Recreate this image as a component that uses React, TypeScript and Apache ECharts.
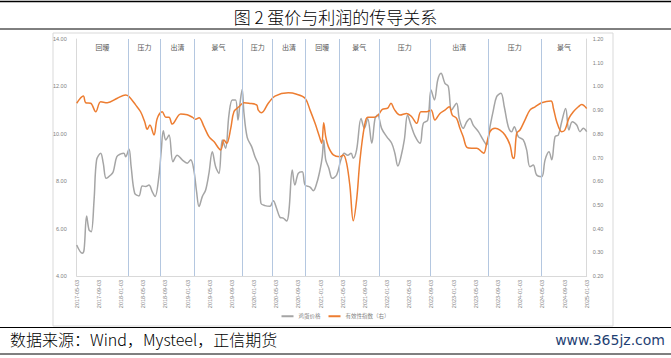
import React, { useEffect, useRef } from "react";
import * as echarts from "echarts";

const eggDates = ["2017-05-03","2017-06-03","2017-06-13","2017-06-27","2017-07-10","2017-07-22","2017-08-07","2017-08-21","2017-09-13","2017-09-27","2017-10-13","2017-11-07","2017-11-21","2017-12-10","2018-01-01","2018-01-19","2018-01-28","2018-02-16","2018-02-28","2018-03-17","2018-04-10","2018-04-28","2018-05-17","2018-06-04","2018-06-22","2018-07-07","2018-07-28","2018-08-11","2018-08-22","2018-09-05","2018-09-23","2018-10-14","2018-11-07","2018-12-04","2019-01-01","2019-01-20","2019-02-07","2019-02-22","2019-03-05","2019-03-23","2019-04-11","2019-04-29","2019-05-17","2019-06-05","2019-06-23","2019-07-11","2019-07-29","2019-08-17","2019-09-05","2019-09-23","2019-10-06","2019-10-17","2019-10-29","2019-11-08","2019-11-26","2019-12-20","2020-01-08","2020-01-30","2020-02-10","2020-03-02","2020-03-29","2020-04-17","2020-05-05","2020-05-23","2020-06-11","2020-06-30","2020-07-12","2020-07-30","2020-08-14","2020-09-02","2020-09-24","2020-10-09","2020-11-06","2020-11-24","2020-12-12","2020-12-30","2021-01-12","2021-01-20","2021-01-31","2021-02-18","2021-03-06","2021-03-30","2021-04-23","2021-05-11","2021-05-30","2021-06-18","2021-06-30","2021-07-18","2021-08-12","2021-08-30","2021-09-18","2021-10-10","2021-10-28","2021-11-12","2021-12-03","2021-12-31","2022-01-28","2022-02-15","2022-03-01","2022-03-18","2022-04-06","2022-04-24","2022-05-12","2022-06-04","2022-07-01","2022-07-19","2022-08-13","2022-08-31","2022-09-19","2022-10-07","2022-10-25","2022-11-16","2022-12-04","2022-12-22","2023-01-19","2023-02-03","2023-02-25","2023-03-14","2023-04-01","2023-04-19","2023-05-17","2023-06-13","2023-07-02","2023-07-20","2023-08-08","2023-08-26","2023-09-19","2023-10-07","2023-10-29","2023-11-17","2023-12-01","2023-12-23","2024-01-20","2024-02-08","2024-02-26","2024-03-14","2024-04-02","2024-04-30","2024-05-18","2024-06-09","2024-06-24","2024-07-12","2024-07-30","2024-08-18","2024-09-09","2024-09-27","2024-10-15","2024-11-09","2024-11-27","2024-12-15","2025-01-03"];
const eggPrice = [5.31,4.96,5.10,6.53,5.94,5.87,7.20,8.90,9.18,8.76,8.12,8.26,8.40,9.03,9.15,9.18,9.03,9.36,8.61,7.49,7.38,7.80,7.78,7.84,7.56,7.35,8.19,9.32,10.13,9.74,9.95,8.82,9.10,8.90,8.76,8.90,8.47,7.56,6.93,7.35,7.63,8.33,9.24,8.61,8.33,9.74,9.39,10.79,11.43,11.43,10.58,11.29,11.88,10.90,9.85,9.46,9.03,8.61,7.07,6.97,6.94,7.18,6.85,6.48,6.44,6.32,6.78,8.47,7.84,8.33,8.40,7.84,7.75,7.60,7.91,8.47,9.03,9.74,8.90,8.54,8.12,8.26,8.90,9.18,9.10,9.18,8.97,9.32,10.65,10.23,10.65,9.60,10.65,10.79,10.23,9.88,9.60,9.18,8.64,9.03,9.74,10.79,10.37,9.90,9.60,10.44,10.58,11.85,11.43,12.27,12.55,12.13,12.00,11.00,11.29,10.65,10.23,10.51,10.65,10.37,10.09,9.74,9.53,10.30,11.00,11.57,11.71,11.14,10.30,10.09,10.30,9.88,9.74,9.32,8.61,8.68,8.26,8.19,8.90,9.24,8.90,9.88,9.95,10.51,11.07,10.16,10.51,10.37,10.09,10.23,10.09];

const indexDates = ["2017-05-03","2017-06-09","2017-06-22","2017-07-19","2017-08-16","2017-09-13","2017-10-19","2017-12-13","2018-01-28","2018-02-16","2018-03-22","2018-04-19","2018-05-11","2018-05-25","2018-06-09","2018-07-01","2018-07-19","2018-08-16","2018-09-05","2018-09-23","2018-10-10","2018-11-26","2019-01-01","2019-01-29","2019-02-17","2019-03-05","2019-04-02","2019-04-29","2019-05-26","2019-07-02","2019-07-20","2019-08-05","2019-08-27","2019-09-14","2019-10-11","2019-11-08","2019-12-05","2020-01-17","2020-01-26","2020-02-14","2020-03-20","2020-04-26","2020-07-08","2020-08-24","2020-10-09","2020-11-06","2020-12-03","2020-12-24","2021-01-09","2021-01-20","2021-01-31","2021-02-15","2021-03-12","2021-04-18","2021-05-06","2021-05-24","2021-06-12","2021-06-30","2021-07-18","2021-08-06","2021-08-30","2021-09-18","2021-10-24","2021-11-15","2021-12-07","2022-01-06","2022-01-24","2022-02-12","2022-03-13","2022-04-19","2022-05-16","2022-06-13","2022-07-06","2022-08-07","2022-08-31","2022-09-22","2022-10-19","2022-11-16","2022-12-09","2022-12-26","2023-01-19","2023-02-07","2023-02-25","2023-03-14","2023-04-11","2023-05-08","2023-06-05","2023-06-17","2023-07-02","2023-07-20","2023-08-17","2023-09-14","2023-10-11","2023-11-08","2023-11-21","2023-11-30","2023-12-14","2024-01-02","2024-01-29","2024-02-26","2024-03-24","2024-04-30","2024-06-20","2024-07-03","2024-07-21","2024-08-18","2024-09-05","2024-09-27","2024-10-21","2024-11-18","2024-12-06","2025-01-03"];
const indexValues = [0.929,0.959,0.931,0.929,0.893,0.935,0.931,0.950,0.964,0.957,0.922,0.893,0.851,0.819,0.837,0.795,0.865,0.893,0.870,0.870,0.841,0.884,0.880,0.870,0.861,0.868,0.830,0.788,0.767,0.732,0.774,0.760,0.823,0.893,0.914,0.931,0.929,0.922,0.900,0.889,0.929,0.959,0.973,0.967,0.950,0.900,0.844,0.795,0.760,0.847,0.788,0.746,0.711,0.703,0.711,0.676,0.577,0.433,0.521,0.689,0.830,0.870,0.870,0.879,0.903,0.908,0.929,0.903,0.879,0.886,0.872,0.844,0.893,0.893,0.900,0.858,0.886,0.900,0.914,0.879,0.865,0.823,0.788,0.743,0.739,0.739,0.724,0.718,0.760,0.809,0.823,0.816,0.795,0.753,0.703,0.696,0.802,0.816,0.858,0.900,0.914,0.931,0.938,0.907,0.851,0.809,0.816,0.865,0.893,0.914,0.924,0.907];

const tickLabels = ["2017-05-03","2017-09-03","2018-01-03","2018-05-03","2018-09-03","2019-01-03","2019-05-03","2019-09-03","2020-01-03","2020-05-03","2020-09-03","2021-01-03","2021-05-03","2021-09-03","2022-01-03","2022-05-03","2022-09-03","2023-01-03","2023-05-03","2023-09-03","2024-01-03","2024-05-03","2024-09-03","2025-01-03"];

const phaseBounds = ["2017-05-03","2018-02-12","2018-08-08","2019-02-09","2019-10-31","2020-04-14","2020-10-09","2021-04-14","2021-11-21","2022-08-27","2023-07-09","2024-04-28","2025-01-03"];
const phaseNames = ["回暖","压力","出清","景气","压力","出清","回暖","景气","压力","出清","压力","景气"];

const seriesNames = ["鸡蛋价格", "有效性指数（右）"];

function monthIndex(d: string): number {
  const [y, m, day] = d.split("-").map(Number);
  return (y - 2017) * 12 + (m - 5) + (day - 3) / 30.44;
}

const CJK = "'Noto Sans CJK SC', 'Noto Sans', sans-serif";

export default function App() {
  const ref = useRef<HTMLDivElement>(null);
  useEffect(() => {
    if (!ref.current) return;
    const chart = echarts.init(ref.current, null, { renderer: "svg" });
    const W = 671;
    const markAreaData = phaseNames.map((n, i) => [
      { xAxis: monthIndex(phaseBounds[i]), name: n },
      { xAxis: monthIndex(phaseBounds[i + 1]) },
    ]);
    const markLineData = phaseBounds.slice(1, -1).map((d) => ({ xAxis: monthIndex(d) }));
    const axisLabelStyle = { color: "#7f7f7f", fontSize: 5.5, fontFamily: "'Liberation Sans', sans-serif" };
    chart.setOption({
      animation: false,
      backgroundColor: "#ffffff",
      title: {
        text: "图 2 蛋价与利润的传导关系",
        left: "center",
        top: 3,
        textStyle: { fontFamily: CJK, fontSize: 17, fontWeight: 300, color: "#000" },
      },
      graphic: [
        { type: "line", shape: { x1: 0, y1: 1.5, x2: W, y2: 1.5 }, style: { stroke: "#000", lineWidth: 1.5 } },
        { type: "line", shape: { x1: 0, y1: 29, x2: W, y2: 29 }, style: { stroke: "#000", lineWidth: 1 } },
        { type: "rect", shape: { x: 53, y: 33, width: 560, height: 293 }, style: { fill: "none", stroke: "#d9d9d9", lineWidth: 1 } },
        { type: "line", shape: { x1: 0, y1: 327.5, x2: W, y2: 327.5 }, style: { stroke: "#000", lineWidth: 1 } },
        { type: "line", shape: { x1: 0, y1: 354, x2: W, y2: 354 }, style: { stroke: "#000", lineWidth: 1 } },
        {
          type: "text", left: 10, top: 331,
          style: { text: "数据来源：Wind，Mysteel，正信期货", fontFamily: CJK, fontSize: 16, fontWeight: 300, fill: "#000" },
        },
        {
          type: "text", right: 6, top: 333,
          style: { text: "www.365jz.com", fontFamily: "'DejaVu Sans', sans-serif", fontSize: 14, fill: "#1f3f73" },
        },
      ],
      legend: {
        bottom: 34,
        left: "center",
        itemWidth: 12,
        itemHeight: 2,
        itemGap: 8,
        icon: "rect",
        textStyle: { fontSize: 5.5, color: "#7f7f7f", fontFamily: CJK },
        data: seriesNames,
      },
      grid: { left: 76.7, right: 84.3, top: 39, bottom: 82 },
      xAxis: {
        type: "value",
        min: 0,
        max: 92,
        interval: 4,
        splitLine: { show: false },
        axisTick: { show: false },
        axisLine: { show: true, lineStyle: { color: "#d9d9d9" } },
        axisLabel: {
          ...axisLabelStyle,
          rotate: 90,
          margin: 4,
          formatter: (v: number) => tickLabels[Math.round(v / 4)] ?? "",
        },
      },
      yAxis: [
        {
          type: "value",
          min: 4,
          max: 14,
          interval: 2,
          splitLine: { show: false },
          axisTick: { show: false },
          axisLine: { show: true, lineStyle: { color: "#d9d9d9" } },
          axisLabel: { ...axisLabelStyle, margin: 10, formatter: (v: number) => v.toFixed(2) },
        },
        {
          type: "value",
          min: 0.2,
          max: 1.2,
          interval: 0.1,
          splitLine: { show: false },
          axisTick: { show: false },
          axisLine: { show: true, lineStyle: { color: "#d9d9d9" } },
          axisLabel: { ...axisLabelStyle, margin: 6, formatter: (v: number) => v.toFixed(2) },
        },
      ],
      series: [
        {
          name: seriesNames[0],
          type: "line",
          yAxisIndex: 0,
          showSymbol: false,
          smooth: 0.35,
          data: eggDates.map((d, i) => [monthIndex(d), eggPrice[i]]),
          lineStyle: { color: "#a5a5a5", width: 1.5 },
          itemStyle: { color: "#a5a5a5" },
          z: 3,
          markLine: {
            silent: true,
            symbol: "none",
            label: { show: false },
            lineStyle: { color: "#b4c7e0", type: "solid", width: 1 },
            data: markLineData,
          },
          markArea: {
            silent: true,
            itemStyle: { color: "rgba(0,0,0,0)" },
            label: {
              show: true,
              position: "insideTop",
              distance: 4,
              color: "#595959",
              fontSize: 7,
              fontFamily: CJK,
            },
            data: markAreaData,
          },
        },
        {
          name: seriesNames[1],
          type: "line",
          yAxisIndex: 1,
          showSymbol: false,
          smooth: 0.35,
          data: indexDates.map((d, i) => [monthIndex(d), indexValues[i]]),
          lineStyle: { color: "#ed7d31", width: 1.5 },
          itemStyle: { color: "#ed7d31" },
          z: 4,
        },
      ],
    });
    return () => chart.dispose();
  }, []);
  return <div ref={ref} style={{ position: "fixed", left: 0, top: 0, width: 671, height: 358 }} />;
}
